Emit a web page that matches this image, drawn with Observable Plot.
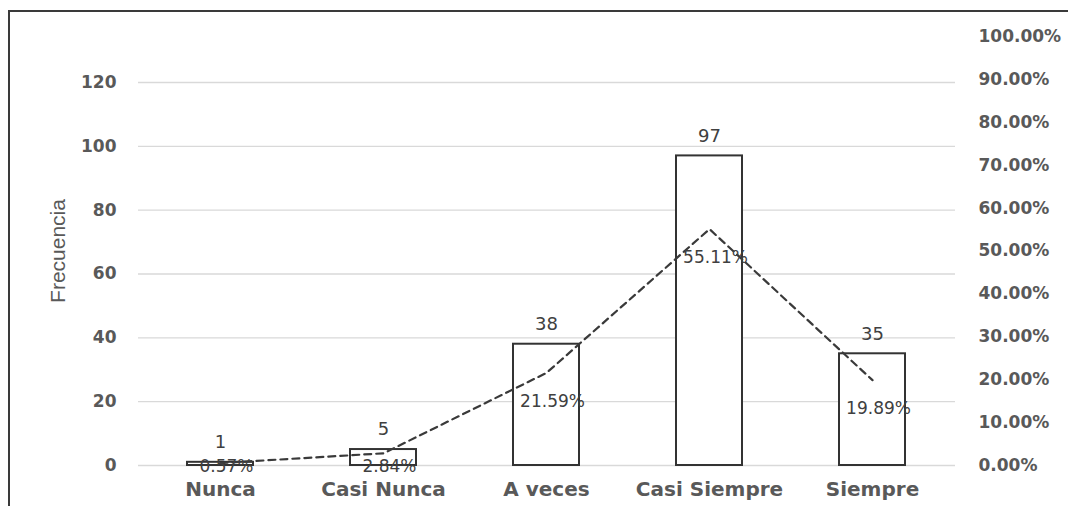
<!DOCTYPE html>
<html>
<head>
<meta charset="utf-8">
<script src="https://cdn.jsdelivr.net/npm/d3@7"></script>
<script src="https://cdn.jsdelivr.net/npm/@observablehq/plot@0.6"></script>
<style>
  html, body { margin: 0; padding: 0; background: #fff; overflow: hidden; }
  #wrap { position: relative; width: 1068px; height: 506px; }
  #frame { position: absolute; left: 8px; top: 10px; width: 1200px; height: 700px;
           border-top: 2px solid #3a3a3a; border-left: 2px solid #3a3a3a; pointer-events: none; }
  #chart { position: absolute; left: 0; top: 0; }
</style>
</head>
<body>
<div id="wrap"><div id="chart"></div><div id="frame"></div></div>
<script>
const categories = ["Nunca", "Casi Nunca", "A veces", "Casi Siempre", "Siempre"];
const frequencies = [1, 5, 38, 97, 35];
const percentages = [0.57, 2.84, 21.59, 55.11, 19.89];
const leftTicks = [0, 20, 40, 60, 80, 100, 120];
const rightTicks = [0, 10, 20, 30, 40, 50, 60, 70, 80, 90, 100];
const yLabel = "Frecuencia";

// secondary axis: 1% expressed in primary-axis units
const K = 1.344;

const data = categories.map((c, i) => ({cat: c, freq: frequencies[i], pct: percentages[i]}));

const tickFont = "DejaVu Sans, Verdana, sans-serif";
const grey = "#595959";

const chart = Plot.plot({
  width: 1068,
  height: 506,
  marginLeft: 138,
  marginRight: 113,
  marginTop: 82,
  marginBottom: 41,
  style: {background: "transparent", fontFamily: tickFont},
  x: {domain: categories, paddingInner: 0.595, paddingOuter: 0.2975},
  y: {domain: [0, 120]},
  marks: [
    Plot.gridY(leftTicks, {stroke: "#d9d9d9", strokeOpacity: 1, strokeWidth: 1.3}),
    Plot.axisY(leftTicks, {anchor: "left", tickSize: 0, tickPadding: 22, fontSize: 17, fontWeight: "bold", fill: grey, label: null}),
    Plot.axisY(rightTicks.map(t => t * K), {anchor: "right", tickSize: 0, tickPadding: 23, fontSize: 17, fontWeight: "bold", fill: grey, label: null,
      tickFormat: d => (d / K).toFixed(2) + "%"}),
    Plot.axisX({anchor: "bottom", tickSize: 0, tickPadding: 16, fontSize: 20, fontWeight: "bold", fill: grey, label: null}),
    Plot.text([yLabel], {frameAnchor: "left", textAnchor: "middle", dx: -80, dy: -23, rotate: -90, fontSize: 21,
      fontFamily: "Liberation Sans Narrow, Arial Narrow, Liberation Sans, Arial, sans-serif", fill: grey}),
    Plot.barY(data, {x: "cat", y: "freq", fill: "white", stroke: "#333333", strokeWidth: 2}),
    Plot.line(data, {x: "cat", y: d => d.pct * K, stroke: "#3a3a3a", strokeWidth: 2.2, strokeDasharray: "7,5"}),
    Plot.text(data, {x: "cat", y: "freq", text: d => String(d.freq), dy: -20, fontSize: 18, fill: "#404040"}),
    Plot.text(data, {x: "cat", y: d => Math.max(d.pct * K - 9, -0.2), text: d => d.pct.toFixed(2) + "%",
      dx: 6, fontSize: 17, fill: "#404040"})
  ]
});
document.getElementById("chart").appendChild(chart);
</script>
</body>
</html>
